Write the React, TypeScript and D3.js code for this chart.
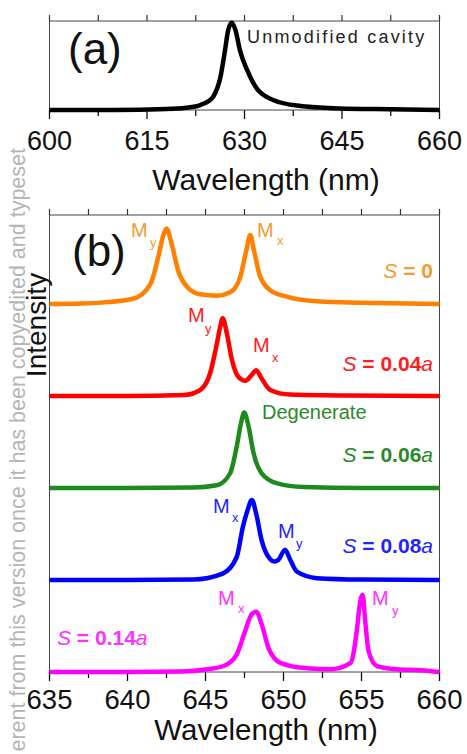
import React from "react";
import * as d3 from "d3";

// panel (a): unmodified cavity
const wlA = [600, 610, 618, 621, 623.2, 624.5, 625.2, 626.3, 627, 627.5, 628.05, 628.6, 629.3, 630.4, 631.9, 634.5, 638.6, 643.7, 650, 660];
const intA = [0, 0, 0.01, 0.025, 0.056, 0.1, 0.15, 0.37, 0.67, 0.9, 0.98, 0.9, 0.67, 0.45, 0.24, 0.11, 0.045, 0.02, 0.01, 0];

// panel (b): shifted cavities, one pair of arrays per curve
const wlS0 = [635, 637, 638.3, 640.4, 641.45, 642.0, 642.3, 642.5, 642.85, 643.27, 643.8, 644.66, 645.73, 646.58, 647.2, 647.6, 647.87, 648.12, 648.5, 649.15, 650.2, 652.1, 656, 660];
const intS0 = [0, 0.005, 0.015, 0.06, 0.21, 0.53, 0.75, 0.82, 0.64, 0.35, 0.19, 0.105, 0.09, 0.127, 0.28, 0.57, 0.75, 0.57, 0.3, 0.15, 0.08, 0.03, 0.01, 0];

const wlS1 = [635, 640, 643.6, 644.66, 645.3, 645.73, 645.94, 646.1, 646.37, 646.7, 647.1, 647.55, 647.97, 648.25, 648.6, 649.15, 650.43, 654, 660];
const intS1 = [0, 0, 0.01, 0.065, 0.25, 0.57, 0.75, 0.845, 0.68, 0.39, 0.21, 0.166, 0.23, 0.28, 0.19, 0.065, 0.015, 0.005, 0];

const wlS2 = [635, 640, 644.2, 645.73, 646.58, 647.0, 647.27, 647.48, 647.76, 648.08, 648.6, 649.6, 651.3, 655, 660];
const intS2 = [0, 0, 0.005, 0.03, 0.16, 0.45, 0.7, 0.82, 0.67, 0.38, 0.16, 0.05, 0.01, 0, 0];

const wlS3 = [635, 640, 644.2, 646.1, 647.0, 647.4, 647.7, 647.97, 648.25, 648.6, 649.15, 649.4, 649.68, 650.1, 650.43, 650.86, 652.14, 655, 660];
const intS3 = [0, 0, 0.005, 0.07, 0.25, 0.58, 0.76, 0.87, 0.72, 0.43, 0.225, 0.2, 0.22, 0.33, 0.22, 0.09, 0.02, 0.005, 0];

const wlS4 = [635, 640, 643.5, 645.1, 646.16, 647.0, 647.55, 647.97, 648.25, 648.6, 649.04, 649.8, 651.5, 653.0, 654.3, 654.7, 654.92, 655.07, 655.24, 655.45, 655.99, 657.27, 658.8, 660];
const intS4 = [0, 0, 0.005, 0.03, 0.065, 0.19, 0.45, 0.63, 0.655, 0.52, 0.26, 0.1, 0.04, 0.03, 0.1, 0.45, 0.77, 0.84, 0.55, 0.23, 0.065, 0.03, 0.02, 0];

const offsets = [4, 3, 2, 1, 0];
const colors = ["#ff8000", "#ff0000", "#1e8a1e", "#0000ff", "#ff00ff"];
const textColors = ["#f39a30", "#ff1c1c", "#2a8a2a", "#2424ff", "#ff30ff"];
const sValues = ["0", "0.04", "0.06", "0.08", "0.14"];

const ticksA = [600, 615, 630, 645, 660];
const minorA = [607.5, 622.5, 637.5, 652.5];
const ticksB = [635, 640, 645, 650, 655, 660];
const minorB = [637.5, 642.5, 647.5, 652.5, 657.5];

const FONT = "'Liberation Sans', Arial, Helvetica, sans-serif";

const xA = d3.scaleLinear().domain([600, 660]).range([49.5, 439.5]);
const yA = d3.scaleLinear().domain([0, 1]).range([110, 21]);
const xB = d3.scaleLinear().domain([635, 660]).range([49.5, 439.5]);
const yB = d3.scaleLinear().domain([0, 5]).range([672, 212]);

function Axis({ x, major, minor, top, bottom, fontSize, labelY }) {
  const all = [...major, ...minor];
  return (
    <g>
      {all.map((t) => (
        <line key={"t" + t} x1={x(t)} x2={x(t)} y1={top} y2={top - 6} stroke="#333" strokeWidth={1.2} />
      ))}
      {major.map((t) => (
        <line key={"b" + t} x1={x(t)} x2={x(t)} y1={bottom} y2={bottom + 9} stroke="#111" strokeWidth={1.3} />
      ))}
      {minor.map((t) => (
        <line key={"m" + t} x1={x(t)} x2={x(t)} y1={bottom} y2={bottom + 6} stroke="#111" strokeWidth={1.3} />
      ))}
      <rect x={x.range()[0]} y={top} width={x.range()[1] - x.range()[0]} height={bottom - top} fill="none" stroke="#444" strokeWidth={1} />
      {major.map((t) => (
        <text key={"l" + t} x={x(t)} y={labelY} textAnchor="middle" fontSize={fontSize} fontFamily={FONT} fill="#111">
          {t}
        </text>
      ))}
    </g>
  );
}

function Sub({ x, y, sx, sy, sub, color }) {
  return (
    <g fontFamily={FONT} fill={color}>
      <text x={x} y={y} fontSize={20}>M</text>
      <text x={sx} y={sy} fontSize={13}>{sub}</text>
    </g>
  );
}

export default function App() {
  const lineA = d3
    .line<number>()
    .x((d, i) => xA(wlA[i]))
    .y((d) => yA(d))
    .curve(d3.curveMonotoneX);

  const seriesB = [
    [wlS0, intS0],
    [wlS1, intS1],
    [wlS2, intS2],
    [wlS3, intS3],
    [wlS4, intS4],
  ];

  return (
    <svg width={467} height={754} style={{ position: "absolute", left: 0, top: 0, background: "#fff" }}>
      {/* watermark (cut by the page edge, as in the source) */}
      <text
        transform="translate(25,148) rotate(-90)"
        textAnchor="end"
        fontSize={21.5}
        fontFamily={FONT}
        fill="#b4b4b4"
      >
        erent from this version once it has been copyedited and typeset
      </text>

      {/* panel (a) */}
      <Axis x={xA} major={ticksA} minor={minorA} top={21} bottom={110} fontSize={27} labelY={150} />
      <path d={lineA(intA) || ""} fill="none" stroke="#000" strokeWidth={4.5} strokeLinejoin="round" />
      <text x={68} y={64} fontSize={44} fontFamily={FONT} fill="#111">(a)</text>
      <text x={247} y={43} fontSize={18} letterSpacing={2.2} fontFamily={FONT} fill="#222">
        Unmodified cavity
      </text>
      <text x={266} y={190} textAnchor="middle" fontSize={30} fontFamily={FONT} fill="#111">
        Wavelength (nm)
      </text>

      {/* panel (b) */}
      <Axis x={xB} major={ticksB} minor={minorB} top={215} bottom={672} fontSize={27.5} labelY={709} />
      {seriesB.map(([wl, vals], k) => {
        const line = d3
          .line<number>()
          .x((d, i) => xB(wl[i]))
          .y((d) => yB(d + offsets[k]))
          .curve(d3.curveMonotoneX);
        return <path key={k} d={line(vals) || ""} fill="none" stroke={colors[k]} strokeWidth={4.5} strokeLinejoin="round" />;
      })}
      <text x={72} y={266} fontSize={44} fontFamily={FONT} fill="#111">(b)</text>
      <text
        transform="translate(46,325) rotate(-90)"
        textAnchor="middle"
        fontSize={28}
        fontFamily={FONT}
        fill="#111"
      >
        Intensity
      </text>
      <text x={266} y={740} textAnchor="middle" fontSize={29.5} fontFamily={FONT} fill="#111">
        Wavelength (nm)
      </text>

      {/* S labels */}
      {[278, 371, 462, 553].map((by, k) => (
        <text key={k} x={433} y={by} textAnchor="end" fontSize={21} fontWeight="bold" fontFamily={FONT} fill={textColors[k]}>
          <tspan fontStyle="italic" fontWeight="normal">S</tspan> = {sValues[k]}
          {k > 0 ? <tspan fontStyle="italic" fontWeight="normal">a</tspan> : null}
        </text>
      ))}
      <text x={57} y={645} fontSize={21} fontWeight="bold" fontFamily={FONT} fill={textColors[4]}>
        <tspan fontStyle="italic" fontWeight="normal">S</tspan> = {sValues[4]}
        <tspan fontStyle="italic" fontWeight="normal">a</tspan>
      </text>

      {/* mode labels */}
      <Sub x={131} y={237} sx={150} sy={247} sub="y" color={textColors[0]} />
      <Sub x={257} y={237} sx={277} sy={245} sub="x" color={textColors[0]} />
      <Sub x={188} y={322} sx={205} sy={333} sub="y" color={textColors[1]} />
      <Sub x={253} y={352} sx={272} sy={362} sub="x" color={textColors[1]} />
      <text x={262} y={419} fontSize={20} fontFamily={FONT} fill={textColors[2]}>Degenerate</text>
      <Sub x={213} y={513} sx={232} sy={522} sub="x" color={textColors[3]} />
      <Sub x={278} y={538} sx={296} sy={548} sub="y" color={textColors[3]} />
      <Sub x={218} y={605} sx={238} sy={613} sub="x" color={textColors[4]} />
      <Sub x={372} y={605} sx={392} sy={615} sub="y" color={textColors[4]} />
    </svg>
  );
}
